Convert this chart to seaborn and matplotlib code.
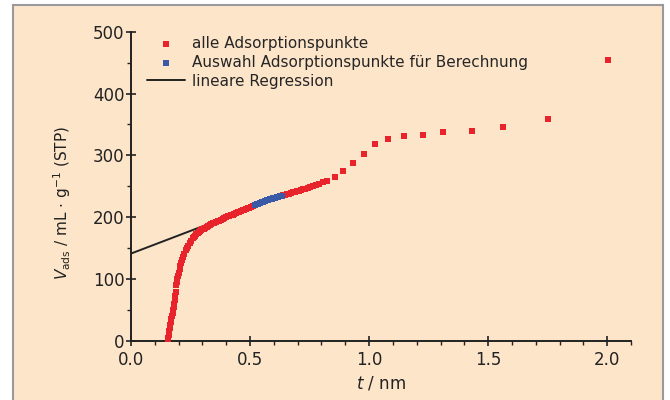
import matplotlib
matplotlib.use("Agg")
import matplotlib.pyplot as plt
from matplotlib.patches import Rectangle
import seaborn as sns
import pandas as pd

# all adsorption points (t in nm, V_ads in mL/g STP)
t_all = [0.155, 0.157, 0.159, 0.161, 0.163, 0.165, 0.168, 0.170, 0.172, 0.175,
         0.177, 0.179, 0.182, 0.184, 0.186, 0.188, 0.191, 0.193, 0.195, 0.198,
         0.201, 0.204, 0.207, 0.211, 0.215, 0.219, 0.224, 0.229, 0.235, 0.241,
         0.248, 0.254, 0.261, 0.266, 0.270, 0.275, 0.280, 0.285, 0.290, 0.295,
         0.300, 0.306, 0.312, 0.318, 0.324, 0.330, 0.336, 0.343, 0.350, 0.357,
         0.364, 0.371, 0.378, 0.385, 0.392, 0.399, 0.406, 0.413, 0.420, 0.427,
         0.434, 0.441, 0.448, 0.455, 0.462, 0.469, 0.476, 0.483, 0.490, 0.497,
         0.504, 0.512,
         0.640, 0.648, 0.656, 0.664, 0.672, 0.680, 0.688, 0.696, 0.704, 0.712,
         0.722, 0.732, 0.742, 0.753, 0.765, 0.777, 0.790, 0.806, 0.823,
         0.855, 0.890, 0.932, 0.978, 1.023, 1.079, 1.146, 1.226, 1.312, 1.431,
         1.561, 1.750, 2.005]
v_all = [0, 5, 10, 15, 20, 25, 30, 35, 40, 45,
         50, 55, 60, 66, 72, 78, 90, 95, 100, 105,
         110, 116, 121, 126, 131, 136, 141, 146, 150, 154,
         158, 162, 166, 168, 170, 172, 174, 175.5, 177, 178.5,
         180, 181.5, 183, 184.5, 186, 187.5, 189, 190, 191, 192,
         193, 194, 195, 196.5, 198, 199.5, 201, 202, 203, 204,
         205, 206.5, 208, 209, 210, 211, 212, 213, 214, 215,
         216, 218,
         235, 236, 237, 238, 239, 240, 241, 242, 243, 244,
         245, 246, 247, 248.5, 250, 251.5, 254, 256.5, 259,
         265, 275, 287, 302, 318, 326, 331, 333, 337, 340,
         345, 358, 454]

# points selected for the calculation
t_sel = [0.521, 0.528, 0.535, 0.542, 0.549, 0.556, 0.563, 0.570, 0.577, 0.584,
         0.591, 0.598, 0.605, 0.612, 0.619, 0.626, 0.633]
v_sel = [220, 221, 222, 223, 224, 225, 226, 227, 227.5, 228.5,
         229.5, 230.5, 231, 232, 233, 233.5, 234]

# linear regression line
t_reg = [0.0, 0.633]
v_reg = [141, 234]

lab_all = "alle Adsorptionspunkte"
lab_sel = "Auswahl Adsorptionspunkte für Berechnung"
lab_reg = "lineare Regression"

peach = "#fde5ca"
red = "#e8232b"
blue = "#3a5aa8"
ink = "#222222"

sns.set_style("ticks")
plt.rcParams["font.family"] = ["DejaVu Sans"]
plt.rcParams["mathtext.fontset"] = "dejavusans"

fig = plt.figure(figsize=(6.7, 4.0), dpi=100, facecolor="white")
fig.patches.append(Rectangle((13 / 670, -0.05), 650 / 670, 1 - 5 / 400 + 0.05,
                             transform=fig.transFigure, facecolor=peach,
                             edgecolor="#9a9a9a", linewidth=1.5, zorder=-5))
ax = fig.add_axes([131 / 670, 1 - 340.7 / 400, 500 / 670, 309 / 400])
ax.set_zorder(2)
ax.set_facecolor("none")

df_all = pd.DataFrame({"t": t_all, "v": v_all})
df_sel = pd.DataFrame({"t": t_sel, "v": v_sel})
df_reg = pd.DataFrame({"t": t_reg, "v": v_reg})

sns.lineplot(data=df_reg, x="t", y="v", ax=ax, color=ink, lw=1.4,
             label=lab_reg, zorder=2)
sns.scatterplot(data=df_all, x="t", y="v", ax=ax, color=red, marker="s",
                s=20, linewidth=0, label=lab_all, zorder=3)
sns.scatterplot(data=df_sel, x="t", y="v", ax=ax, color=blue, marker="s",
                s=20, linewidth=0, label=lab_sel, zorder=4)

ax.set_xlim(0, 2.1)
ax.set_ylim(0, 500)
ax.set_xticks([0.0, 0.5, 1.0, 1.5, 2.0])
ax.set_xticks([i / 10 for i in range(0, 22)], minor=True)
ax.set_yticks([0, 100, 200, 300, 400, 500])
ax.set_yticks(list(range(0, 501, 50)), minor=True)
ax.set_xticklabels(["0.0", "0.5", "1.0", "1.5", "2.0"])

sns.despine(ax=ax)
for s in ["left", "bottom"]:
    ax.spines[s].set_linewidth(1.4)
    ax.spines[s].set_color(ink)
ax.tick_params(which="major", direction="inout", length=7, width=1.2,
               labelsize=12, colors=ink)
ax.tick_params(axis="x", which="major", pad=4)
ax.tick_params(axis="y", which="major", pad=1)
ax.tick_params(which="minor", direction="out", length=3, width=1.0,
               colors=ink)

ax.set_xlabel(r"$\mathit{t}$ / nm", fontsize=12, color=ink)
ax.xaxis.set_label_coords(0.5, -0.108)
ax.set_ylabel(r"$\mathit{V}_{\mathrm{ads}}$ / mL $\cdot$ g$^{-1}$ (STP)",
              fontsize=11, color=ink)
ax.yaxis.set_label_coords(-0.116, 0.446)

h, l = ax.get_legend_handles_labels()
order = [l.index(lab_all), l.index(lab_sel), l.index(lab_reg)]
leg = ax.legend([h[i] for i in order], [l[i] for i in order],
                loc="upper left", bbox_to_anchor=(0.005, 1.03), frameon=False,
                fontsize=11, handlelength=2.5, handletextpad=0.45,
                labelspacing=0.25, markerscale=1.0)

fig.savefig("out.png", dpi=100, facecolor="white")
